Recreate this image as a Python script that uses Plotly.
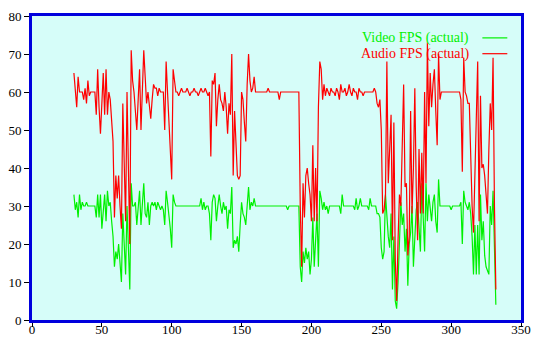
import plotly.graph_objects as go

x_start = 30
audio_fps = [
    65, 60, 56, 64, 60, 60, 60, 58, 61, 57,   # 30-39
    63, 59, 60, 60, 60, 60, 54, 66, 56, 49,   # 40-49
    57, 65, 54, 66, 54, 60, 58, 52, 47, 27,   # 50-59
    38, 32, 38, 30, 24, 57, 40, 26, 60, 35,   # 60-69
    20, 71, 63, 60, 56, 50, 58, 66, 50, 60,   # 70-79
    71, 64, 57, 60, 57, 53, 58, 62, 61, 61,   # 80-89
    59, 61, 60, 60, 60, 50, 68, 60, 52, 44,   # 90-99
    37, 66, 62, 60, 60, 59, 60, 61, 60, 60,   # 100-109
    60, 61, 60, 59, 60, 60, 61, 60, 60, 59,   # 110-119
    60, 61, 60, 60, 61, 60, 59, 60, 43, 63,   # 120-129
    62, 65, 51, 58, 62, 58, 57, 55, 60, 56,   # 130-139
    49, 57, 54, 70, 38, 55, 46, 38, 37, 38,   # 140-149
    60, 58, 52, 47, 62, 70, 63, 60, 61, 64,   # 150-159
    60, 60, 60, 60, 60, 60, 60, 60, 60, 61,   # 160-169
    60, 60, 60, 60, 60, 60, 60, 58, 60, 60,   # 170-179
    60, 60, 60, 60, 60, 60, 60, 60, 60, 60,   # 180-189
    60, 60, 30, 14, 36, 27, 38, 40, 36, 33,   # 190-199
    26, 46, 26, 40, 26, 56, 68, 66, 58, 62,   # 200-209
    59, 61, 60, 59, 61, 60, 60, 59, 61, 60,   # 210-219
    58, 62, 60, 60, 61, 59, 60, 62, 60, 59,   # 220-229
    61, 60, 60, 58, 61, 60, 60, 59, 60, 60,   # 230-239
    60, 60, 60, 60, 60, 61, 60, 57, 56, 58,   # 240-249
    50, 28, 29, 33, 68, 36, 45, 54, 21, 52,   # 250-259
    16, 5, 21, 33, 30, 45, 62, 35, 36, 17,    # 260-269
    22, 55, 28, 40, 61, 35, 21, 45, 28, 44,   # 270-279
    28, 60, 36, 73, 51, 65, 56, 62, 66, 55,   # 280-289
    46, 70, 58, 60, 60, 60, 60, 60, 60, 60,   # 290-299
    60, 60, 60, 60, 60, 60, 60, 58, 39, 69,   # 300-309
    60, 59, 57, 57, 40, 30, 23, 40, 55, 68,   # 310-319
    26, 59, 40, 41, 38, 33, 28, 45, 57, 50,   # 320-329
    69, 30, 8,                                # 330-332
]
video_fps = [
    33, 29, 31, 27, 33, 29, 31, 30, 30, 31,   # 30-39
    30, 30, 30, 30, 30, 30, 27, 33, 27, 33,   # 40-49
    24, 30, 33, 26, 34, 30, 31, 26, 22, 14,   # 50-59
    18, 16, 20, 15, 10, 28, 20, 12, 30, 20,   # 60-69
    8, 36, 30, 30, 31, 25, 30, 34, 25, 30,    # 70-79
    36, 28, 27, 31, 25, 30, 31, 30, 31, 29,   # 80-89
    31, 30, 29, 30, 29, 25, 34, 31, 28, 24,   # 90-99
    19, 33, 31, 30, 30, 30, 30, 30, 30, 30,   # 100-109
    30, 30, 30, 30, 30, 30, 30, 30, 30, 30,   # 110-119
    30, 32, 29, 31, 29, 30, 30, 28, 21, 31,   # 120-129
    33, 32, 26, 30, 33, 30, 28, 31, 29, 30,   # 130-139
    24, 29, 28, 35, 19, 21, 20, 22, 18, 25,   # 140-149
    31, 28, 27, 25, 30, 35, 29, 31, 30, 32,   # 150-159
    30, 30, 30, 30, 30, 30, 30, 30, 30, 30,   # 160-169
    30, 30, 30, 30, 30, 30, 30, 30, 30, 30,   # 170-179
    30, 30, 30, 29, 30, 30, 30, 30, 30, 30,   # 180-189
    30, 30, 14, 10, 18, 15, 19, 16, 18, 12,   # 190-199
    16, 27, 14, 20, 28, 14, 34, 32, 29, 31,   # 200-209
    29, 30, 28, 30, 30, 30, 30, 30, 30, 30,   # 210-219
    30, 28, 33, 30, 30, 30, 30, 30, 30, 30,   # 220-229
    30, 29, 32, 29, 30, 32, 30, 30, 30, 30,   # 230-239
    30, 29, 32, 30, 30, 30, 30, 28, 28, 27,   # 240-249
    19, 16, 18, 33, 26, 22, 19, 28, 8, 22,    # 250-259
    5, 3, 10, 23, 31, 25, 28, 18, 24, 9,      # 260-269
    20, 23, 30, 14, 22, 29, 31, 25, 18, 36,   # 270-279
    26, 18, 36, 26, 33, 30, 26, 31, 33, 26,   # 280-289
    23, 37, 30, 30, 30, 30, 30, 30, 30, 30,   # 290-299
    29, 30, 30, 30, 30, 30, 30, 31, 20, 34,   # 300-309
    31, 30, 29, 31, 28, 22, 12, 25, 12, 25,   # 310-319
    12, 33, 21, 26, 17, 14, 13, 12, 30, 25,   # 320-329
    34, 20, 4,                                # 330-332
]
x_vals = list(range(x_start, x_start + len(audio_fps)))

x_ticks = [0, 50, 100, 150, 200, 250, 300, 350]
y_ticks = [0, 10, 20, 30, 40, 50, 60, 70, 80]
series_names = ["Video FPS (actual)", "Audio FPS (actual)"]
GREEN = "#00f000"
RED = "#ff0000"
FONT = "Liberation Serif"

fig = go.Figure()
fig.add_trace(go.Scatter(x=x_vals, y=video_fps, mode="lines", name=series_names[0],
                         line=dict(color=GREEN, width=1.2), showlegend=False))
fig.add_trace(go.Scatter(x=x_vals, y=audio_fps, mode="lines", name=series_names[1],
                         line=dict(color=RED, width=1.2), showlegend=False))

# gnuplot-style key: text right-aligned, sample line to its right
for i, (name, col) in enumerate(zip(series_names, [GREEN, RED])):
    yk = 0.928 - i * 0.052
    fig.add_annotation(xref="paper", yref="paper", x=0.898, y=yk, text=name,
                       showarrow=False, xanchor="right", yanchor="middle",
                       font=dict(family=FONT, size=14, color=col))
    fig.add_shape(type="line", xref="paper", yref="paper", x0=0.921, x1=0.972,
                  y0=yk, y1=yk, line=dict(color=col, width=1.2))

axis_common = dict(showgrid=False, zeroline=False, ticks="outside",
                   tickcolor="black", tickwidth=1, showline=True, linecolor="#0000dd",
                   linewidth=3, mirror=True, automargin=False,
                   tickfont=dict(family=FONT, size=13, color="black"))
fig.update_xaxes(range=[0, 350], tickvals=x_ticks, ticklen=4, ticklabelstandoff=-9,
                 **axis_common)
fig.update_yaxes(range=[0, 80], tickvals=y_ticks, ticklen=5, **axis_common)

fig.update_layout(width=535, height=338, margin=dict(l=32, r=14, t=16, b=18),
                  paper_bgcolor="white", plot_bgcolor="#d6fdf9",
                  font=dict(family=FONT))

fig.write_html("out.html")
